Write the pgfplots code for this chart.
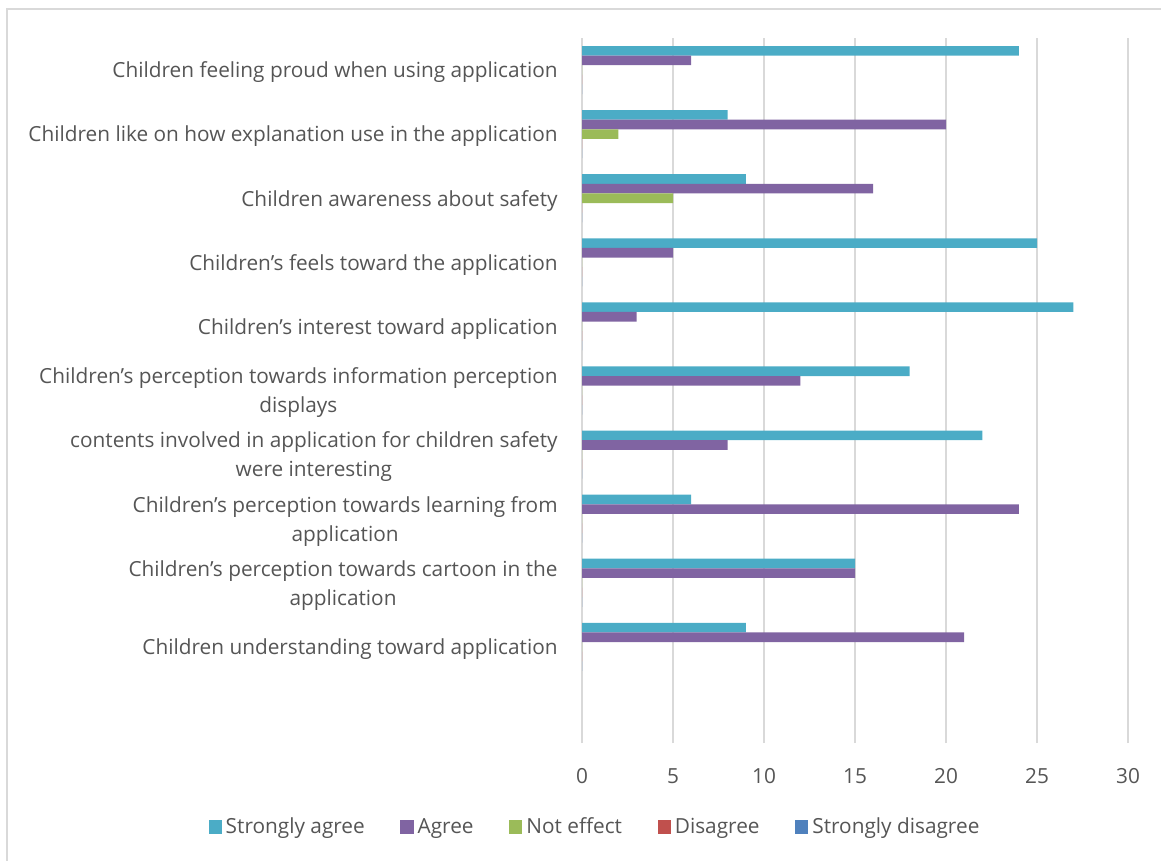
\documentclass[border=0pt]{standalone}
\usepackage{fontspec}
\setmainfont{Open Sans}
\usepackage{pgfplots}
\pgfplotsset{compat=1.18}
\definecolor{sa}{HTML}{4BACC6}
\definecolor{ag}{HTML}{8064A2}
\definecolor{ne}{HTML}{9BBB59}
\definecolor{di}{HTML}{C0504D}
\definecolor{sd}{HTML}{4F81BD}
\definecolor{txt}{HTML}{555555}
\definecolor{gridc}{HTML}{D9D9D9}
\begin{document}
\begin{tikzpicture}
\path[use as bounding box] (0pt,0pt) rectangle (580.5pt,-430.5pt);
\draw[gridc, line width=0.65pt] (3.5pt,-431pt) -- (3.5pt,-4.5pt) -- (581pt,-4.5pt);
\begin{axis}[
  at={(291pt,-371.5pt)}, anchor=south west,
  scale only axis, width=273pt, height=352.5pt,
  xbar, bar width=0.15,
  legend image code/.code={\fill[#1] (0pt,-3.4pt) rectangle (6.6pt,3.4pt);},
  xmin=0, xmax=30, xtick={0,5,...,30},
  ymin=-0.5, ymax=10.5, ytick={1,2,3,4,5,6,7,8,9,10},
  yticklabels={
    {Children understanding toward application},
    {Children’s perception towards cartoon in the\\application},
    {Children’s perception towards learning from\\application},
    {contents involved in application for children safety\\were interesting},
    {Children’s perception towards information perception\\displays},
    {Children’s interest toward application},
    {Children’s feels toward the application},
    {Children awareness about safety},
    {Children like on how explanation use in the application},
    {Children feeling proud when using application}},
  axis line style={draw=none},
  major tick length=0pt,
  xmajorgrids, grid style={gridc, line width=0.65pt},
  tick label style={font=\fontsize{10.4}{14.5}\selectfont, text=txt},
  /pgf/number format/assume math mode=true,
  xticklabel style={anchor=base, yshift=-20pt},
  yticklabel style={anchor=east, align=center, inner sep=0pt, xshift=-12pt, yshift=-1.2pt},
  legend columns=5,
  legend style={at={(0.0256,-0.1195)}, anchor=center, draw=none, fill=none,
    font=\fontsize{10.4}{14.5}\selectfont, text=txt,
    /tikz/every even column/.append style={column sep=15.8pt}},
]
\addplot[fill=sa, draw=none, bar shift=0.30] coordinates {(9,1) (15,2) (6,3) (22,4) (18,5) (27,6) (25,7) (9,8) (8,9) (24,10)};
\addlegendentry{Strongly agree}
\addplot[fill=ag, draw=none, bar shift=0.15] coordinates {(21,1) (15,2) (24,3) (8,4) (12,5) (3,6) (5,7) (16,8) (20,9) (6,10)};
\addlegendentry{Agree}
\addplot[fill=ne, draw=none, bar shift=0] coordinates {(0,1) (0,2) (0,3) (0,4) (0,5) (0,6) (0,7) (5,8) (2,9) (0,10)};
\addlegendentry{Not effect}
\addplot[fill=di, draw=none, bar shift=-0.15] coordinates {(0,1) (0,2) (0,3) (0,4) (0,5) (0,6) (0,7) (0,8) (0,9) (0,10)};
\addlegendentry{Disagree}
\addplot[fill=sd, draw=none, bar shift=-0.30] coordinates {(0,1) (0,2) (0,3) (0,4) (0,5) (0,6) (0,7) (0,8) (0,9) (0,10)};
\addlegendentry{Strongly disagree}
\end{axis}
\end{tikzpicture}
\end{document}
